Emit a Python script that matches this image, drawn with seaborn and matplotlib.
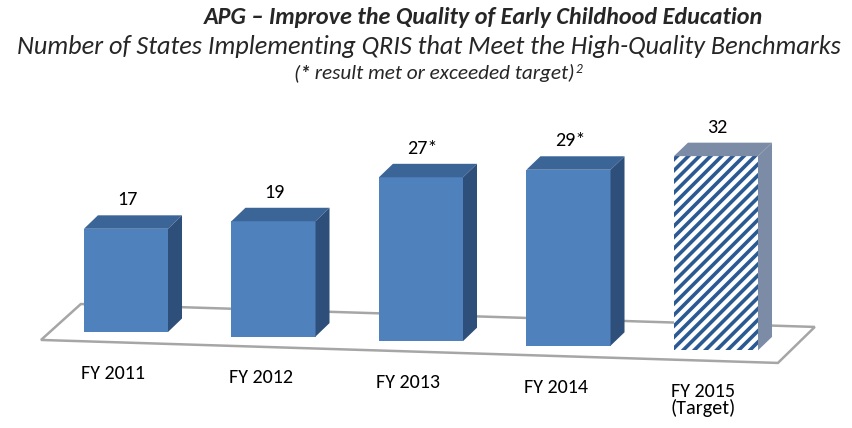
import pandas as pd
import seaborn as sns
import matplotlib.pyplot as plt
from matplotlib.patches import Polygon, Rectangle
from matplotlib import font_manager

# data
years = ['FY 2011', 'FY 2012', 'FY 2013', 'FY 2014', 'FY 2015\n(Target)']
states = [17, 19, 27, 29, 32]
value_labels = ['17', '19', '27*', '29*', '32']

title = 'APG \u2013 Improve the Quality of Early Childhood Education'
subtitle = 'Number of States Implementing QRIS that Meet the High-Quality Benchmarks'

# colours
front_blue = '#4f81bd'
top_blue = '#3c6597'
side_blue = '#2f4f7b'
stripe_blue = '#2b5a93'
target_face = '#7d8ca6'

names = {f.name for f in font_manager.fontManager.ttflist}
base_font = 'Liberation Sans'
for cand in ['Carlito', 'Lato', 'Liberation Sans']:
    if cand in names:
        base_font = cand
        break

sns.set_style('white')
plt.rcParams['font.family'] = [base_font, 'DejaVu Sans']
plt.rcParams['hatch.linewidth'] = 2.6

fig = plt.figure(figsize=(8.52, 4.28), dpi=100)
ax = fig.add_axes([0, 0, 1, 1])

df = pd.DataFrame({'year': years, 'states': states})
sns.barplot(data=df, x='year', y='states', hue='year', palette=[front_blue] * len(years),
            saturation=1, legend=False, width=0.57, errorbar=None, linewidth=0,
            ax=ax, zorder=3)
bars = sorted([p for p in ax.patches if isinstance(p, Rectangle)], key=lambda p: p.get_x())

# pseudo-3d perspective: every bar sits a little lower than the one before it
drop = 0.758
dx, dy = 0.095, 2.22


def base(x):
    return -drop * x


ax.set_xlim(-0.854, -0.854 + 852 / 147.5)
ax.set_ylim(-15.82, -15.82 + 428 / 6.07)
ax.axis('off')

# floor
fx0, fx1 = -0.576, 4.42
floor = [(fx0, base(fx0) - 1.75), (fx0 + 0.27, base(fx0 + 0.27) + 4.37),
         (fx1 + 0.25, base(fx1 + 0.25) + 4.37), (fx1, base(fx1) - 1.75)]
ax.add_patch(Polygon(floor, closed=True, facecolor='white', edgecolor='#a6a6a6',
                     linewidth=1.8, zorder=1))

lab_fs = 14.5
for i, bar in enumerate(bars):
    bar.set_y(base(i))
    x0 = bar.get_x()
    x1 = x0 + bar.get_width()
    y0 = bar.get_y()
    top = y0 + bar.get_height()
    last = i == len(bars) - 1
    if last:
        bar.set_facecolor('white')
        bar.set_edgecolor(stripe_blue)
        bar.set_hatch('///')
        bar.set_linewidth(0)
    tcol = target_face if last else top_blue
    scol = target_face if last else side_blue
    ax.add_patch(Polygon([(x0, top), (x1, top), (x1 + dx, top + dy), (x0 + dx, top + dy)],
                         closed=True, facecolor=tcol, edgecolor='none', zorder=3))
    ax.add_patch(Polygon([(x1, y0), (x1 + dx, y0 + dy), (x1 + dx, top + dy), (x1, top)],
                         closed=True, facecolor=scol, edgecolor='none', zorder=3))
    ax.text((x0 + x1) / 2 + 0.01, top + 4.75, value_labels[i], ha='center', va='center',
            fontsize=lab_fs, color='black')
    ax.text(i - 0.085, base(i) - 5.4, years[i], ha='center', va='top',
            fontsize=lab_fs, color='black', linespacing=0.95)

# titles
W, H = 852, 428
t1 = fig.text(483 / W, 1 - 17 / H, title, ha='center', va='center',
              fontsize=16, fontweight='bold', fontstyle='italic')
t2 = fig.text(429 / W, 1 - 47 / H, subtitle, ha='center', va='center',
              fontsize=16, fontstyle='italic')
n1 = fig.text(293 / W, 1 - 73 / H, '(', ha='left', va='center', fontsize=11, fontstyle='italic')
n2 = fig.text(0, 0, '*', fontsize=11, fontstyle='italic', fontweight='bold')
n3 = fig.text(0, 0, ' result met or exceeded target)', fontsize=11, fontstyle='italic')
n4 = fig.text(0, 0, '2', fontsize=7, fontstyle='italic')

fig.canvas.draw()
r = fig.canvas.get_renderer()
t1.set_fontsize(16 * 560 / t1.get_window_extent(r).width)
t2.set_fontsize(16 * 828 / t2.get_window_extent(r).width)


def chain():
    fig.canvas.draw()
    for prev, cur in [(n1, n2), (n2, n3)]:
        bb = prev.get_window_extent(r)
        cur.set_position((bb.x1 / W, n1.get_position()[1]))
        cur.set_va('center')
        fig.canvas.draw()
    bb = n3.get_window_extent(r)
    n4.set_position((bb.x1 / W + 0.001, (bb.y1 - 5) / H))
    n4.set_va('center')
    fig.canvas.draw()


chain()
width = n3.get_window_extent(r).x1 - n1.get_window_extent(r).x0
scale = 283 / width
for t in (n1, n2, n3, n4):
    t.set_fontsize(t.get_fontsize() * scale)
chain()

fig.savefig('out.png', dpi=100)
